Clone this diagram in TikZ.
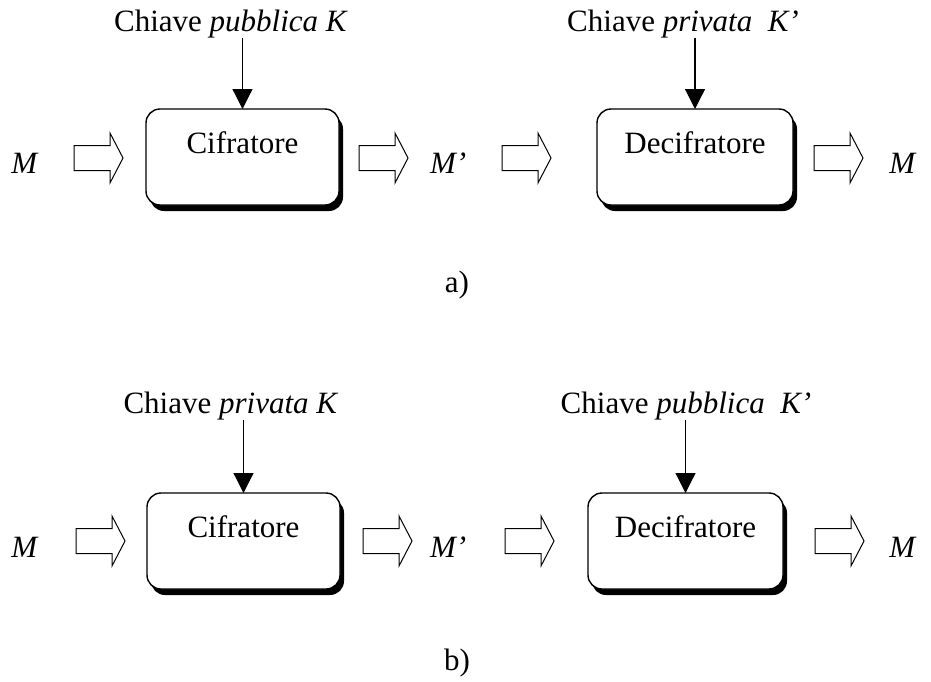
\documentclass[tikz,border=0pt]{standalone}
\usepackage{fontspec}
\setmainfont{Liberation Serif}
\usetikzlibrary{arrows.meta,shadows}

\begin{document}
\begin{tikzpicture}[x=1pt,y=-1pt,
  every node/.style={inner sep=0pt, outer sep=0pt, font=\fontsize{31}{37}\selectfont},
  blockbox/.style={draw, line width=1.4pt, rounded corners=14pt, fill=white,
    minimum height=96pt,
    drop shadow={shadow xshift=4pt, shadow yshift=-6pt, fill=black, opacity=1}},
  keyarrow/.style={line width=1.2pt, -{Triangle[width=20pt,length=20pt]}},
  hollow/.pic={
    \draw[line width=1pt, fill=white]
      (0,-12.5) -- (36,-12.5) -- (36,-25) -- (49,0) -- (36,25)
      -- (36,12.5) -- (0,12.5) -- cycle;
  }]
\useasboundingbox (0,0) rectangle (931,681);

% ---------------- scheme a) ----------------
\node[blockbox, minimum width=193pt] (c1) at (242.5,157) {};
\node[anchor=base] (c1t) at ([yshift=-44pt]c1.north) {Cifratore};
\node[blockbox, minimum width=196pt] (d1) at (695,157) {};
\node[anchor=base] (d1t) at ([yshift=-44pt]d1.north) {Decifratore};

\node[anchor=base] (k1) at (231,31) {Chiave \textit{pubblica K}};
\node[anchor=base] (k2) at (683,31) {Chiave \textit{privata\enspace K’}};
\draw[keyarrow] (c1.north |- k1.south) -- (c1.north);
\draw[keyarrow] (d1.north |- k2.south) -- (d1.north);

\node[anchor=base] (m1) at (25,173) {\textit{M}};
\node[anchor=base west] (mp1) at (430,173) {\textit{M’}};
\node[anchor=base] (m2) at (903,173) {\textit{M}};

\pic (h1) at (74,158) {hollow};
\pic (h2) at (359,158) {hollow};
\pic (h3) at (502,158) {hollow};
\pic (h4) at (814,158) {hollow};

\node[anchor=base] (la) at (457,292) {a)};

% ---------------- scheme b) ----------------
\node[blockbox, minimum width=193pt] (c2) at (243.5,541) {};
\node[anchor=base] (c2t) at ([yshift=-44pt]c2.north) {Cifratore};
\node[blockbox, minimum width=195pt] (d2) at (685.5,541) {};
\node[anchor=base] (d2t) at ([yshift=-44pt]d2.north) {Decifratore};

\node[anchor=base] (k3) at (231,413) {Chiave \textit{privata K}};
\node[anchor=base] (k4) at (686,413) {Chiave \textit{pubblica\enspace K’}};
\draw[keyarrow] (c2.north |- k3.south) -- (c2.north);
\draw[keyarrow] (d2.north |- k4.south) -- (d2.north);

\node[anchor=base] (m3) at (25,557) {\textit{M}};
\node[anchor=base west] (mp2) at (430,557) {\textit{M’}};
\node[anchor=base] (m4) at (903,557) {\textit{M}};

\pic (h5) at (76,541) {hollow};
\pic (h6) at (363,541) {hollow};
\pic (h7) at (505,541) {hollow};
\pic (h8) at (815,541) {hollow};

\node[anchor=base] (lb) at (457,670) {b)};
\end{tikzpicture}
\end{document}
